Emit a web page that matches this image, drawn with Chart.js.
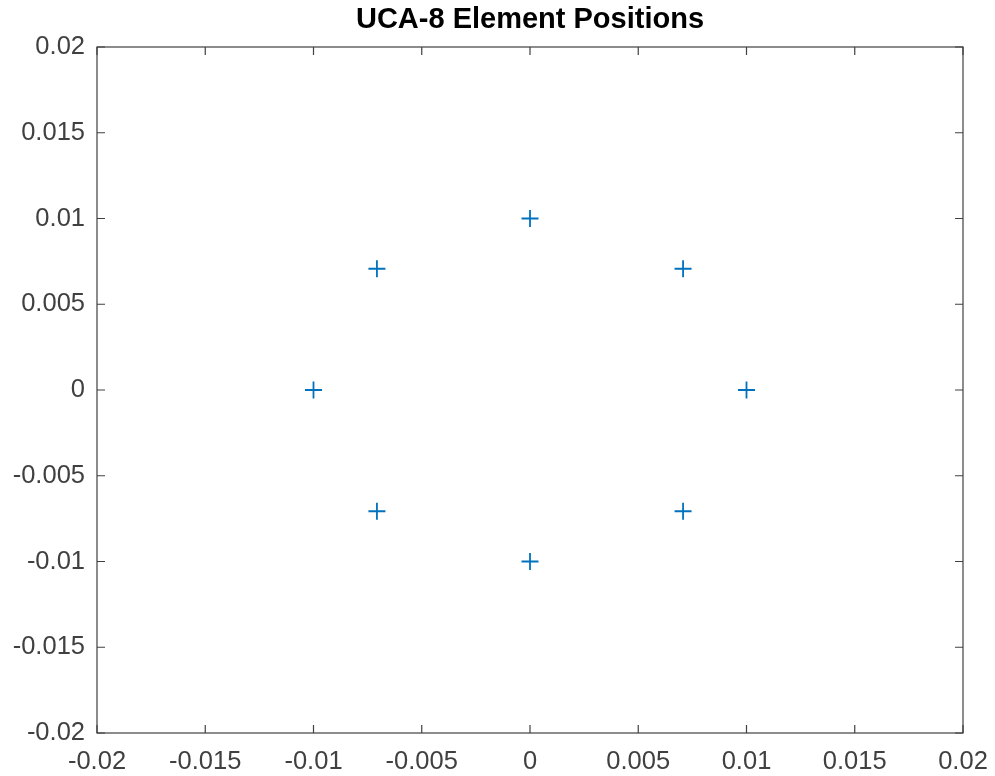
<!DOCTYPE html>
<html>
<head>
<meta charset="utf-8">
<script src="https://cdn.jsdelivr.net/npm/chart.js@4"></script>
<style>
  html, body { margin: 0; padding: 0; background: #fff; }
  #wrap { width: 995px; height: 776px; }
</style>
</head>
<body>
<div id="wrap"><canvas id="uca"></canvas></div>
<script>
// element positions
const elemX = [0, 0.00707, 0.01, 0.00707, 0, -0.00707, -0.01, -0.00707]
const elemY = [0.01, 0.00707, 0, -0.00707, -0.01, -0.00707, 0, 0.00707]

const tickValues = [-0.02, -0.015, -0.01, -0.005, 0, 0.005, 0.01, 0.015, 0.02]
const tickLabels = ['-0.02', '-0.015', '-0.01', '-0.005', '0', '0.005', '0.01', '0.015', '0.02']

const axisColor = '#404040'
const labelFont = { family: 'Liberation Sans, Arial, sans-serif', size: 25.5 }

// MATLAB style box with inward ticks on all four sides
const boxPlugin = {
  id: 'boxPlugin',
  afterLayout (chart) {
    // centre the title over the axes, like MATLAB does
    if (chart.titleBlock) {
      chart.titleBlock.left = chart.chartArea.left
      chart.titleBlock.right = chart.chartArea.right
    }
  },
  afterDraw (chart) {
    const { ctx, chartArea: { left, right, top, bottom } } = chart
    const xs = chart.scales.x
    const ys = chart.scales.y
    const len = 8
    ctx.save()
    ctx.strokeStyle = axisColor
    ctx.lineWidth = 1.2
    ctx.strokeRect(left, top, right - left, bottom - top)
    ctx.beginPath()
    tickValues.forEach(v => {
      const px = xs.getPixelForValue(v)
      ctx.moveTo(px, bottom); ctx.lineTo(px, bottom - len)
      ctx.moveTo(px, top); ctx.lineTo(px, top + len)
      const py = ys.getPixelForValue(v)
      ctx.moveTo(left, py); ctx.lineTo(left + len, py)
      ctx.moveTo(right, py); ctx.lineTo(right - len, py)
    })
    ctx.stroke()
    ctx.restore()
  }
}

const fixedTicks = scale => {
  scale.ticks = tickValues.map(v => ({ value: v }))
}
const labelFor = (value) => {
  const i = tickValues.findIndex(t => Math.abs(t - value) < 1e-9)
  return i >= 0 ? tickLabels[i] : ''
}

new Chart(document.getElementById('uca').getContext('2d'), {
  type: 'scatter',
  data: {
    datasets: [{
      data: elemX.map((x, i) => ({ x, y: elemY[i] })),
      pointStyle: 'cross',
      pointRadius: 8.5,
      pointBorderWidth: 1.8,
      borderColor: '#0072BD',
      backgroundColor: '#0072BD'
    }]
  },
  options: {
    responsive: true,
    maintainAspectRatio: false,
    animation: false,
    layout: { padding: { left: 0, right: 32, top: 0, bottom: 0 } },
    plugins: {
      legend: { display: false },
      tooltip: { enabled: false },
      title: {
        display: true,
        text: 'UCA-8 Element Positions',
        color: '#000',
        font: { family: 'Liberation Sans, Arial, sans-serif', size: 29, weight: 'bold' },
        padding: { top: 3, bottom: 9.2 }
      }
    },
    scales: {
      x: {
        type: 'linear',
        min: -0.02,
        max: 0.02,
        afterBuildTicks: fixedTicks,
        afterFit (scale) {
          scale.height = 43
          scale.paddingLeft = 0
          scale.paddingRight = 0
        },
        grid: { display: false, drawTicks: false },
        border: { display: false },
        ticks: {
          color: axisColor,
          font: labelFont,
          padding: 14,
          maxRotation: 0,
          autoSkip: false,
          callback: labelFor
        }
      },
      y: {
        type: 'linear',
        min: -0.02,
        max: 0.02,
        afterBuildTicks: fixedTicks,
        afterFit (scale) {
          scale.width = 97
          scale.paddingTop = 0
          scale.paddingBottom = 0
        },
        grid: { display: false, drawTicks: false },
        border: { display: false },
        ticks: {
          color: axisColor,
          font: labelFont,
          padding: 12,
          autoSkip: false,
          callback: labelFor
        }
      }
    }
  },
  plugins: [boxPlugin]
})
</script>
</body>
</html>
